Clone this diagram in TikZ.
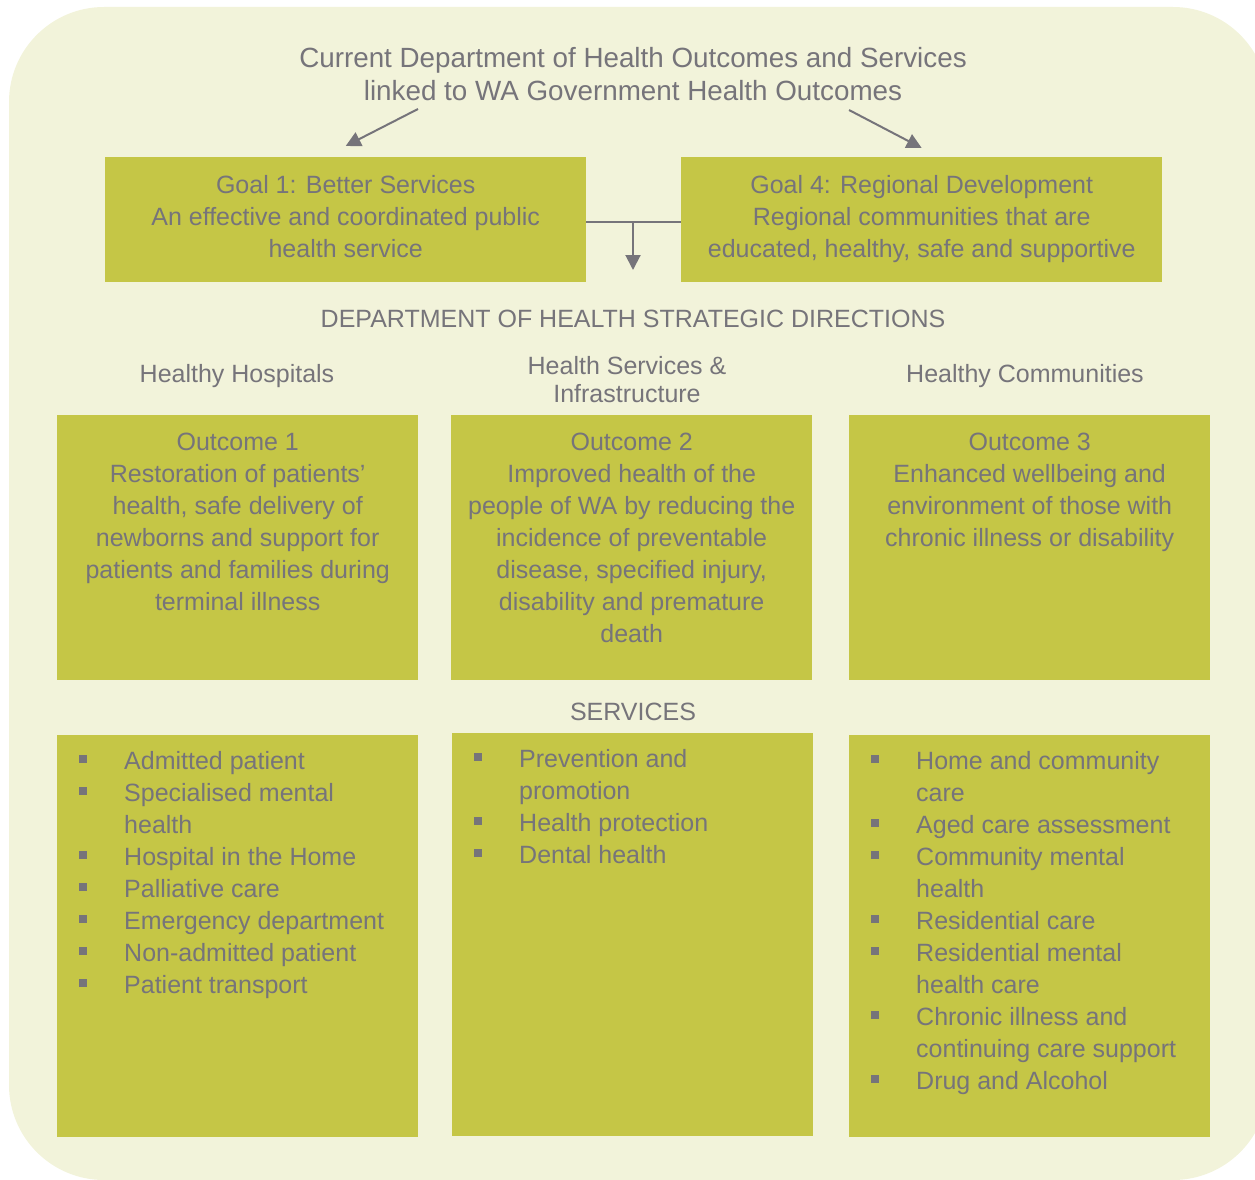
\documentclass[tikz,border=0pt]{standalone}
\usepackage{fontspec}
\setmainfont{Liberation Sans}
\usetikzlibrary{arrows.meta}
\definecolor{bgcream}{RGB}{242,243,218}
\definecolor{boxgreen}{RGB}{197,198,70}
\definecolor{txtgrey}{RGB}{118,116,122}
\newcommand{\sq}{\makebox[45pt][l]{\raisebox{6pt}{\rule{8pt}{8pt}}}}
\newcommand{\ind}{\hspace*{45pt}}

\begin{document}
\begin{tikzpicture}[x=1pt,y=-1pt,
  every node/.style={text=txtgrey,inner sep=0pt,font=\fontsize{25}{32}\selectfont},
  box/.style={fill=boxgreen},
  arr/.style={draw=txtgrey,line width=2pt,-{Triangle[length=15pt,width=15pt]}}]
\useasboundingbox (0,0) rectangle (1255,1180);
\fill[bgcream,rounded corners=95pt] (9,7) rectangle (1268,1180);

\node[align=center,font=\fontsize{27.8}{33}\selectfont] (title) at (633,74) {Current Department of Health Outcomes and Services\\linked to WA Government Health Outcomes};

\node[box,minimum width=481pt,minimum height=125pt,anchor=north west] (g1) at (105,157) {};
\node[box,minimum width=481pt,minimum height=125pt,anchor=north west] (g4) at (681,157) {};
\node[align=center,anchor=north] (g1t) at ([yshift=-18pt]g1.north) {Goal 1: Better Services\\An effective and coordinated public\\health service};
\node[align=center,anchor=north] (g4t) at ([yshift=-18pt]g4.north) {Goal 4: Regional Development\\Regional communities that are\\educated, healthy, safe and supportive};

\coordinate (a1) at (418,109);
\coordinate (a4) at (849,110);
\draw[arr] (a1) -- ([yshift=11pt]g1.north);
\draw[arr] (a4) -- ([yshift=9pt]g4.north);
\coordinate (j) at (633,222);
\coordinate (jd) at (633,270);
\draw[txtgrey,line width=2pt] (g1.east |- j) -- (g4.west |- j);
\draw[arr] (j) -- (jd);

\node (dir) at (633,319) {DEPARTMENT OF HEALTH STRATEGIC DIRECTIONS};
\node (h1) at (237,376) {Healthy Hospitals};
\node[align=center,font=\fontsize{25}{28}\selectfont] (h2) at (627,380) {Health Services \&\\Infrastructure};
\node (h3) at (1025,376) {Healthy Communities};

\node[box,minimum width=361pt,minimum height=265pt,anchor=north west] (o1) at (57,415) {};
\node[box,minimum width=361pt,minimum height=265pt,anchor=north west] (o2) at (451,415) {};
\node[box,minimum width=361pt,minimum height=265pt,anchor=north west] (o3) at (849,415) {};
\node[align=center,anchor=north] (o1t) at ([yshift=-18pt]o1.north) {Outcome 1\\Restoration of patients’\\health, safe delivery of\\newborns and support for\\patients and families during\\terminal illness};
\node[align=center,anchor=north] (o2t) at ([yshift=-18pt]o2.north) {Outcome 2\\Improved health of the\\people of WA by reducing the\\incidence of preventable\\disease, specified injury,\\disability and premature\\death};
\node[align=center,anchor=north] (o3t) at ([yshift=-18pt]o3.north) {Outcome 3\\Enhanced wellbeing and\\environment of those with\\chronic illness or disability};

\node (serv) at (633,712) {SERVICES};

\node[box,minimum width=361pt,minimum height=402pt,anchor=north west] (s1) at (57,735) {};
\node[box,minimum width=361pt,minimum height=403pt,anchor=north west] (s2) at (452,733) {};
\node[box,minimum width=361pt,minimum height=402pt,anchor=north west] (s3) at (849,735) {};
\node[align=left,anchor=north west] (s1t) at ([xshift=22pt,yshift=-16pt]s1.north west) {\sq Admitted patient\\\sq Specialised mental\\\ind health\\\sq Hospital in the Home\\\sq Palliative care\\\sq Emergency department\\\sq Non-admitted patient\\\sq Patient transport};
\node[align=left,anchor=north west] (s2t) at ([xshift=22pt,yshift=-16pt]s2.north west) {\sq Prevention and\\\ind promotion\\\sq Health protection\\\sq Dental health};
\node[align=left,anchor=north west] (s3t) at ([xshift=22pt,yshift=-16pt]s3.north west) {\sq Home and community\\\ind care\\\sq Aged care assessment\\\sq Community mental\\\ind health\\\sq Residential care\\\sq Residential mental\\\ind health care\\\sq Chronic illness and\\\ind continuing care support\\\sq Drug and Alcohol};
\end{tikzpicture}
\end{document}
